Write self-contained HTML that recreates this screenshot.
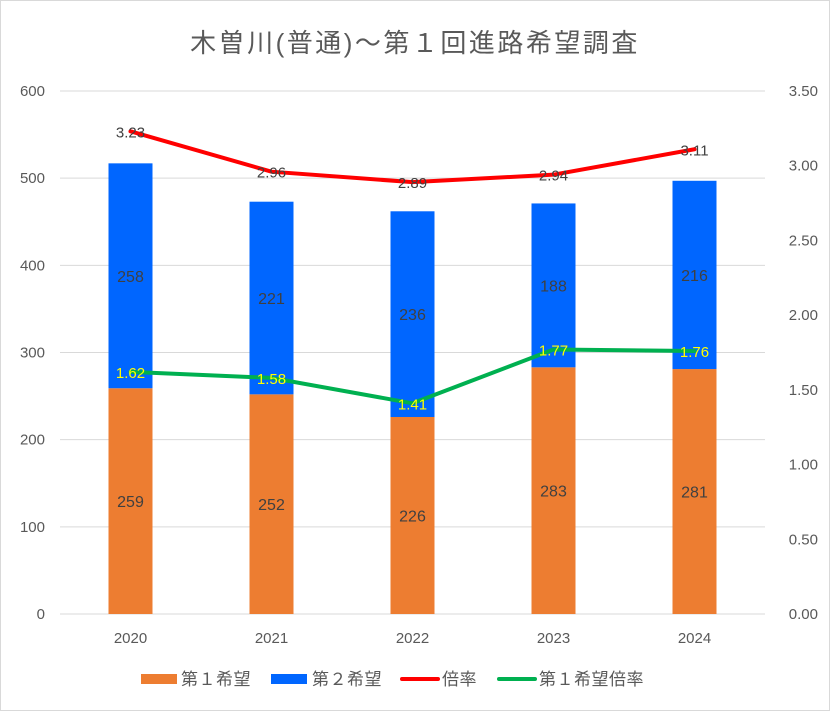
<!DOCTYPE html>
<html><head><meta charset="utf-8">
<style>
body{margin:0;background:#fff;}
svg{display:block;font-family:"Liberation Sans","Noto Sans CJK JP",sans-serif;}
</style></head>
<body>
<svg id="chart" width="830" height="711" xmlns="http://www.w3.org/2000/svg">
<rect x="0.5" y="0.5" width="829" height="710" fill="#fff" stroke="#d9d9d9"/>
<text x="415" y="52" text-anchor="middle" font-size="26" letter-spacing="2.5" fill="#595959">木曽川(普通)～第１回進路希望調査</text>
<g id="grid"></g>
<g id="bars"></g>
<g id="lines"></g>
<g id="legend">
<rect x="141" y="674" width="36" height="10" fill="#ed7d31"/>
<text x="181" y="685" font-size="17" letter-spacing="0.5" fill="#595959">第１希望</text>
<rect x="271" y="674" width="36" height="10" fill="#0066ff"/>
<text x="312" y="685" font-size="17" letter-spacing="0.5" fill="#595959">第２希望</text>
<line x1="402" y1="679" x2="438" y2="679" stroke="#ff0000" stroke-width="4" stroke-linecap="round"/>
<text x="442" y="685" font-size="17" letter-spacing="0.5" fill="#595959">倍率</text>
<line x1="499" y1="679" x2="535" y2="679" stroke="#00b050" stroke-width="4" stroke-linecap="round"/>
<text x="539" y="685" font-size="17" letter-spacing="0.5" fill="#595959">第１希望倍率</text>
</g>
</svg>
<script>
const categories = ["2020","2021","2022","2023","2024"];
const firstChoice = [259,252,226,283,281];
const secondChoice = [258,221,236,188,216];
const ratio = [3.23,2.96,2.89,2.94,3.11];
const firstRatio = [1.62,1.58,1.41,1.77,1.76];
const leftTicks = [0,100,200,300,400,500,600];
const rightTicks = ["0.00","0.50","1.00","1.50","2.00","2.50","3.00","3.50"];

const NS="http://www.w3.org/2000/svg";
const plotL=60, plotR=765, y0=614, yTop=91, leftMax=600, rightMax=3.5;
const yL=v=>y0-(v/leftMax)*(y0-yTop);
const yR=v=>y0-(v/rightMax)*(y0-yTop);
const band=(plotR-plotL)/categories.length;
const xC=i=>plotL+band*(i+0.5);
const barW=44;
function mk(tag,attrs,parent,text){const e=document.createElementNS(NS,tag);for(const k in attrs)e.setAttribute(k,attrs[k]);if(text!==undefined)e.textContent=text;parent.appendChild(e);return e;}
const grid=document.getElementById('grid');
leftTicks.forEach(t=>{
  const l=mk('line',{x1:plotL,x2:plotR,y1:yL(t),y2:yL(t),stroke:'#d9d9d9','stroke-width':1},grid);
  
  
  const tx=mk('text',{x:45,y:yL(t)+5,'text-anchor':'end','font-size':15,fill:'#595959'},grid,t);
  
  
});
rightTicks.forEach(t=>{
  const tx=mk('text',{x:818,y:yR(parseFloat(t))+5,'text-anchor':'end','font-size':15,fill:'#595959'},grid,t);
  
  
});
categories.forEach((c,i)=>{
  const tx=mk('text',{x:xC(i),y:643,'text-anchor':'middle','font-size':15,fill:'#595959'},grid,c);
  
  
});
const bars=document.getElementById('bars');
categories.forEach((c,i)=>{
  const a=firstChoice[i], b=secondChoice[i];
  const r1=mk('rect',{x:xC(i)-barW/2,y:yL(a),width:barW,height:y0-yL(a),fill:'#ed7d31'},bars);
  
  
  const r2=mk('rect',{x:xC(i)-barW/2,y:yL(a+b),width:barW,height:yL(a)-yL(a+b),fill:'#0066ff'},bars);
  
  
  const t1=mk('text',{x:xC(i),y:(yL(a)+y0)/2+6,'text-anchor':'middle','font-size':16,fill:'#404040'},bars,a);
  
  
  const t2=mk('text',{x:xC(i),y:(yL(a+b)+yL(a))/2+6,'text-anchor':'middle','font-size':16,fill:'#404040'},bars,b);
  
  
});
const lines=document.getElementById('lines');
function series(vals,color,fill,name){
  const pts=vals.map((v,i)=>xC(i)+','+yR(v)).join(' ');
  const p=mk('polyline',{points:pts,fill:'none',stroke:color,'stroke-width':4,'stroke-linejoin':'round','stroke-linecap':'round'},lines);
  
  
  vals.forEach((v,i)=>{
    const t=mk('text',{x:xC(i),y:yR(v)+6,'text-anchor':'middle','font-size':15,fill:fill},lines,v.toFixed(2));
    
    
  });
}
series(ratio,'#ff0000','#404040','ratio');
series(firstRatio,'#00b050','#ffff00','first-ratio');
</script>
</body></html>
